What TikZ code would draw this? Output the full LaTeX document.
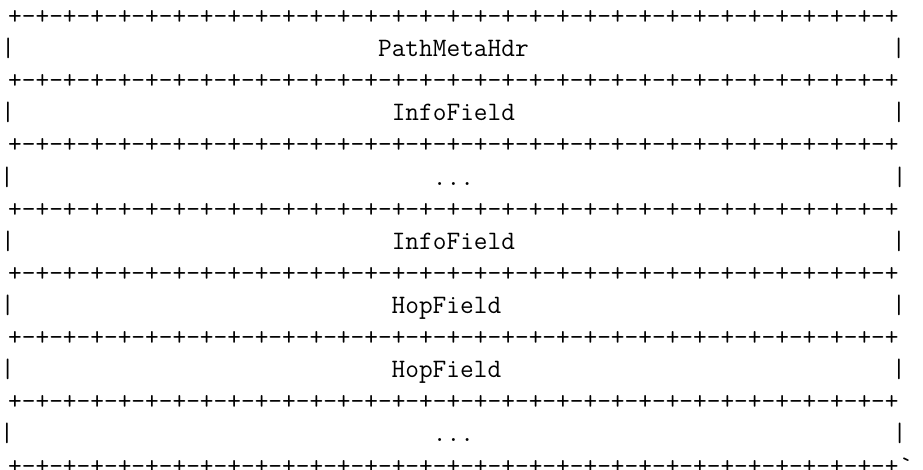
\documentclass[tikz,border=0pt]{standalone}
\usetikzlibrary{positioning}

% one ruler line of the ASCII layout (32 cells)
\newcommand{\sepline}{+-+-+-+-+-+-+-+-+-+-+-+-+-+-+-+-+-+-+-+-+-+-+-+-+-+-+-+-+-+-+-+-+}
\newcommand{\gap}[1]{\hspace*{#1\dimexpr0.525em\relax}}
\newcommand{\fieldrow}[3]{|\gap{#1}#2\gap{#3}|}

\begin{document}
\begin{tikzpicture}[
  x=1pt, y=1pt,
  node distance=0pt,
  row/.style={inner sep=0pt, font=\fontsize{26.6}{31.7}\selectfont\ttfamily, text height=24.4pt, text depth=7.3pt}
]
  \useasboundingbox (0,0) rectangle (923,-470);
  \node[row, anchor=north west] (s0) at (8,0) {\sepline};
  \node[row, below=of s0] (hdr) {\fieldrow{26}{PathMetaHdr}{26}};
  \node[row, below=of hdr] (s1) {\sepline};
  \node[row, below=of s1] (info1) {\fieldrow{27}{InfoField}{27}};
  \node[row, below=of info1] (s2) {\sepline};
  \node[row, below=of s2] (dots1) {\fieldrow{30}{...}{30}};
  \node[row, below=of dots1] (s3) {\sepline};
  \node[row, below=of s3] (info2) {\fieldrow{27}{InfoField}{27}};
  \node[row, below=of info2] (s4) {\sepline};
  \node[row, below=of s4] (hop1) {\fieldrow{27}{HopField}{28}};
  \node[row, below=of hop1] (s5) {\sepline};
  \node[row, below=of s5] (hop2) {\fieldrow{27}{HopField}{28}};
  \node[row, below=of hop2] (s6) {\sepline};
  \node[row, below=of s6] (dots2) {\fieldrow{30}{...}{30}};
  \node[row, below=of dots2] (s7) {\sepline};
  \node[row, right=of s7] (tick) {\char96};
\end{tikzpicture}
\end{document}
